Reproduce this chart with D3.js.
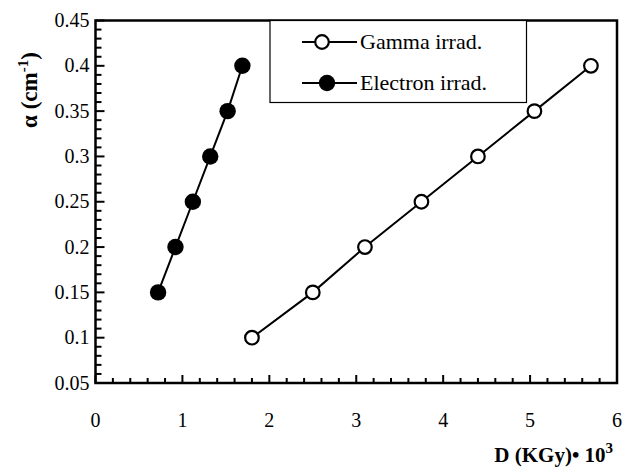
<!DOCTYPE html>
<html>
<head>
<meta charset="utf-8">
<script src="https://cdn.jsdelivr.net/npm/d3@7"></script>
<style>
  body { margin: 0; background: #fff; }
</style>
</head>
<body>
<div id="viz_container"></div>
<script>
// data
const gammaDose = [1.8, 2.5, 3.1, 3.75, 4.4, 5.05, 5.7];
const gammaAlpha = [0.1, 0.15, 0.2, 0.25, 0.3, 0.35, 0.4];
const electronDose = [0.72, 0.92, 1.12, 1.32, 1.52, 1.69];
const electronAlpha = [0.15, 0.2, 0.25, 0.3, 0.35, 0.4];
const xTicks = [0, 1, 2, 3, 4, 5, 6];
const yTicks = [0.05, 0.1, 0.15, 0.2, 0.25, 0.3, 0.35, 0.4, 0.45];
const legendNames = ["Gamma irrad.", "Electron irrad."];

const FONT = '"Liberation Serif"';

// dimensions of the plot box
const W = 624, H = 469;
const boxL = 95.5, boxR = 617, boxT = 20.5, boxB = 383;

const svg = d3.select("#viz_container")
    .append("svg")
    .attr("width", W)
    .attr("height", H);

// scales
const x = d3.scaleLinear().domain([0, 6]).range([boxL, boxR]);
const y = d3.scaleLinear().domain([0.05, 0.45]).range([boxB, boxT]);

// minor + major ticks, pointing inside
const xMinor = d3.range(0, 30.5, 1).map(i => i * 0.2);
const yMinor = d3.range(0, 40.5, 1).map(i => 0.05 + i * 0.01);

svg.append("g").selectAll("line").data(xMinor).join("line")
    .attr("x1", d => x(d)).attr("x2", d => x(d))
    .attr("y1", boxB)
    .attr("y2", (d, i) => boxB - (i % 5 === 0 ? 8 : 5))
    .attr("stroke", "#000").attr("stroke-width", 2);

svg.append("g").selectAll("line").data(yMinor).join("line")
    .attr("y1", d => y(d)).attr("y2", d => y(d))
    .attr("x1", boxL)
    .attr("x2", (d, i) => boxL + (i % 5 === 0 ? 9 : 6))
    .attr("stroke", "#000").attr("stroke-width", 2);

// tick labels
svg.append("g").selectAll("text").data(xTicks).join("text")
    .attr("x", d => x(d)).attr("y", 427)
    .attr("text-anchor", "middle")
    .style("font-family", FONT).style("font-size", "20px")
    .text(d => d);

svg.append("g").selectAll("text").data(yTicks).join("text")
    .attr("x", boxL - 6).attr("y", d => y(d) + 6.5)
    .attr("text-anchor", "end")
    .style("font-family", FONT).style("font-size", "20px")
    .text(d => String(+d.toFixed(2)));

// plot frame
svg.append("rect")
    .attr("x", boxL).attr("y", boxT)
    .attr("width", boxR - boxL)
    .attr("height", boxB - boxT)
    .attr("fill", "none")
    .attr("stroke", "#000")
    .attr("stroke-width", 2.5);

// lines
const line = d3.line().x(d => x(d[0])).y(d => y(d[1]));
const gammaData = gammaDose.map((d, i) => [d, gammaAlpha[i]]);
const electronData = electronDose.map((d, i) => [d, electronAlpha[i]]);

svg.append("path").datum(gammaData).attr("d", line)
    .attr("fill", "none").attr("stroke", "#000").attr("stroke-width", 2);
svg.append("path").datum(electronData).attr("d", line)
    .attr("fill", "none").attr("stroke", "#000").attr("stroke-width", 2);

svg.append("g").selectAll("circle").data(gammaData).join("circle")
    .attr("cx", d => x(d[0])).attr("cy", d => y(d[1])).attr("r", 6.8)
    .attr("fill", "#fff").attr("stroke", "#000").attr("stroke-width", 2.2);
svg.append("g").selectAll("circle").data(electronData).join("circle")
    .attr("cx", d => x(d[0])).attr("cy", d => y(d[1])).attr("r", 8.2)
    .attr("fill", "#000");

// legend
const leg = svg.append("g");
leg.append("rect")
    .attr("x", 270).attr("y", boxT)
    .attr("width", 256.5).attr("height", 82)
    .attr("fill", "#fff").attr("stroke", "#000").attr("stroke-width", 1.2);

const rows = [42, 83];
legendNames.forEach((name, i) => {
    leg.append("line").attr("x1", 302).attr("x2", 357).attr("y1", rows[i]).attr("y2", rows[i])
        .attr("stroke", "#000").attr("stroke-width", 2);
    if (i === 0) {
        leg.append("circle").attr("cx", 322).attr("cy", rows[i]).attr("r", 6.8)
            .attr("fill", "#fff").attr("stroke", "#000").attr("stroke-width", 2.2);
    } else {
        leg.append("circle").attr("cx", 327).attr("cy", rows[i]).attr("r", 8.2).attr("fill", "#000");
    }
    leg.append("text").attr("x", 360).attr("y", rows[i] + 7)
        .style("font-family", FONT).style("font-size", "22px").text(name);
});

// axis titles
const xt = svg.append("text")
    .attr("x", 613).attr("y", 462)
    .attr("text-anchor", "end")
    .style("font-family", FONT).style("font-size", "21px").style("font-weight", "bold");
xt.append("tspan").text("D (KGy)\u2022 10");
xt.append("tspan").attr("dy", -9).style("font-size", "15px").text("3");

const yt = svg.append("text")
    .attr("transform", "translate(37, 90) rotate(-90)")
    .attr("text-anchor", "middle")
    .style("font-family", FONT).style("font-size", "23px").style("font-weight", "bold");
yt.append("tspan").text("\u03b1 (cm");
yt.append("tspan").attr("dy", -9).style("font-size", "15px").text("-1");
yt.append("tspan").attr("dy", 9).text(")");
</script>
</body>
</html>
